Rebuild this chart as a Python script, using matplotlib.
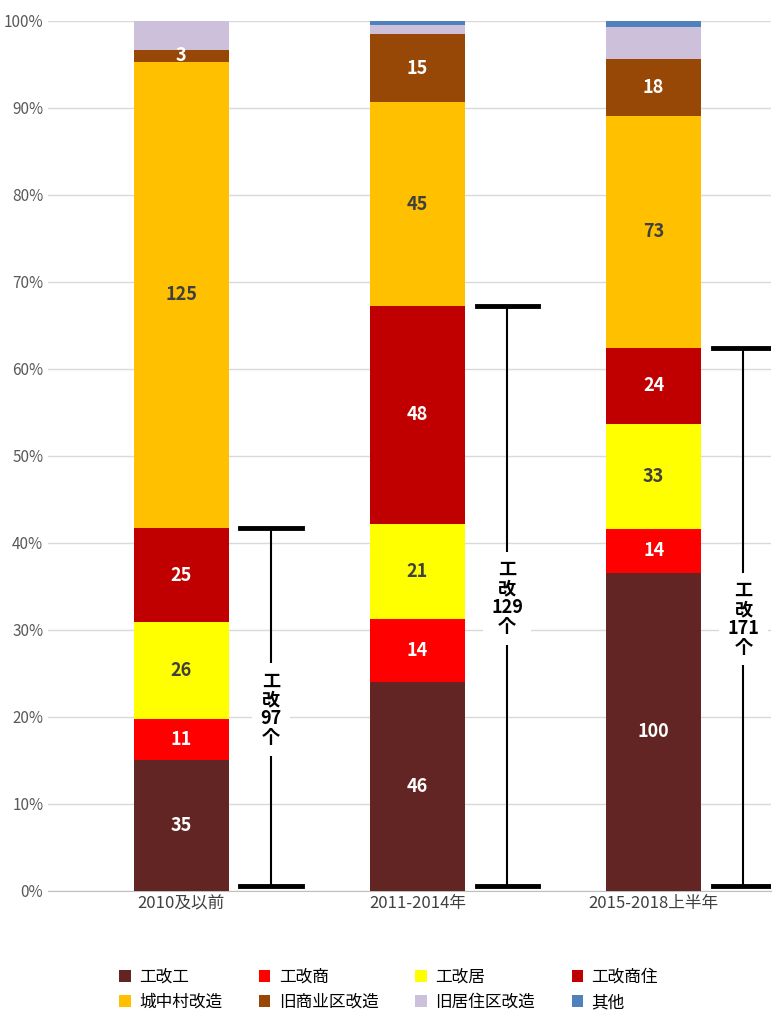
import matplotlib
matplotlib.use('Agg')
import matplotlib.pyplot as plt
from matplotlib import font_manager
import numpy as np

cjk = [f.name for f in font_manager.fontManager.ttflist if "CJK" in f.name]
fam = "Noto Sans CJK SC" if "Noto Sans CJK SC" in cjk else (cjk[0] if cjk else "DejaVu Sans")
plt.rcParams['font.family'] = fam

categories = ["2010及以前", "2011-2014年", "2015-2018上半年"]
series = ["工改工", "工改商", "工改居", "工改商住", "城中村改造", "旧商业区改造", "旧居住区改造", "其他"]
values = [
    [35, 46, 100],
    [11, 14, 14],
    [26, 21, 33],
    [25, 48, 24],
    [125, 45, 73],
    [3, 15, 18],
    [8, 2, 10],
    [0, 1, 2],
]
show_label = [True, True, True, True, True, True, False, False]
industrial_totals = [97, 129, 171]

colors = ["#632523", "#FF0000", "#FFFF00", "#C00000", "#FFC000", "#974706", "#CCC0DA", "#4F81BD"]
text_colors = ["white", "white", "#404040", "white", "#404040", "white", "#404040", "white"]

vals = np.array(values, dtype=float)
totals = vals.sum(axis=0)
pct = vals / totals * 100

fig = plt.figure(figsize=(7.77, 10.26), dpi=100)
ax = fig.add_axes([0.062, 0.132, 0.93, 0.848])

x = np.arange(len(categories))
width = 0.4
bottom = np.zeros(len(categories))
handles = []
for i, name in enumerate(series):
    h = ax.bar(x, pct[i], width, bottom=bottom, color=colors[i], label=name, zorder=3)
    handles.append(h)
    if show_label[i]:
        for j in range(len(categories)):
            if vals[i, j] > 0:
                ax.text(x[j], bottom[j] + pct[i, j] / 2, f"{int(vals[i, j])}",
                        ha="center", va="center", fontsize=13, fontweight="bold",
                        color=text_colors[i], zorder=4)
    bottom += pct[i]

# brackets for 工改 totals
ind_pct = pct[:4].sum(axis=0)
for j in range(len(categories)):
    bx = x[j] + 0.38
    ax.plot([bx, bx], [0.5, ind_pct[j]], color="black", lw=1.5, zorder=3)
    for yy in (0.5, ind_pct[j]):
        ax.plot([bx - 0.13, bx + 0.13], [yy, yy], color="black", lw=3.5, zorder=3)
    ax.text(bx, ind_pct[j] / 2, f"工\n改\n{industrial_totals[j]}\n个", ha="center", va="center",
            fontsize=13, fontweight="bold", linespacing=1.0,
            bbox=dict(facecolor="white", edgecolor="none", pad=6), zorder=4)

ax.set_ylim(0, 100)
ax.set_xlim(-0.564, 2.496)
ax.set_yticks(np.arange(0, 101, 10))
ax.set_yticklabels([f"{v}%" for v in range(0, 101, 10)], fontsize=11, color="#595959")
ax.set_xticks(x)
ax.set_xticklabels(categories, fontsize=12, color="#404040")
ax.tick_params(length=0)
ax.grid(axis="y", color="#D9D9D9", lw=1, zorder=0)
for s in ["top", "right", "left"]:
    ax.spines[s].set_visible(False)
ax.spines["bottom"].set_color("#BFBFBF")

# matplotlib fills legend column-wise; reorder so rows read left to right
order = [0, 4, 1, 5, 2, 6, 3, 7]
fig.legend(handles=[handles[k] for k in order], labels=[series[k] for k in order],
           loc="lower center", ncol=4, bbox_to_anchor=(0.5, 0.0), frameon=False, fontsize=12,
           handlelength=0.7, handleheight=0.7, columnspacing=2.2, handletextpad=0.5)

plt.savefig("out.png", dpi=100)
